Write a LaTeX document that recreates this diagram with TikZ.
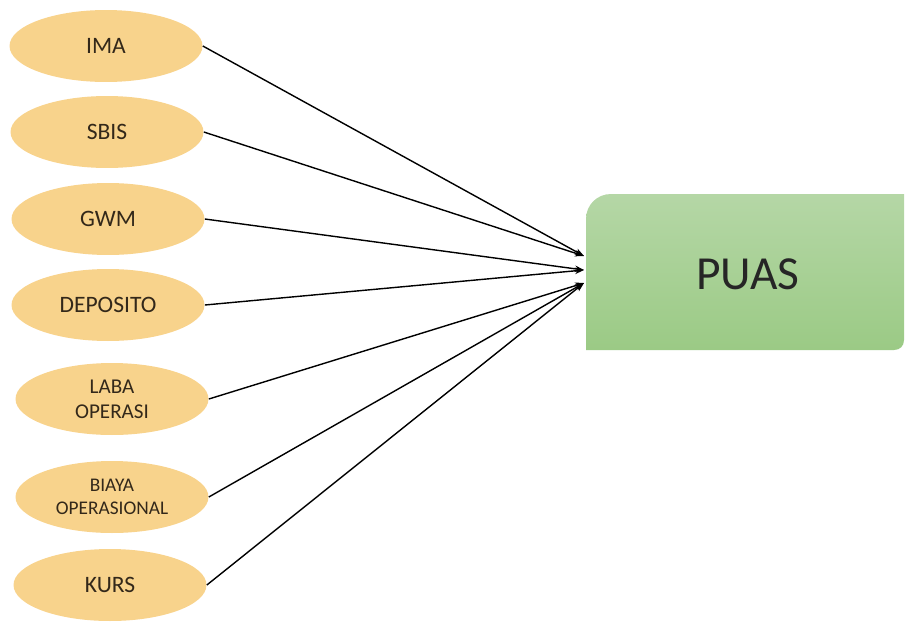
\documentclass[tikz,border=0pt]{standalone}
\usepackage{fontspec}
\setmainfont{Carlito}
\usetikzlibrary{shapes.geometric, arrows.meta}

\definecolor{varfill}{HTML}{F8D38C}
\definecolor{vartext}{HTML}{33281A}
\definecolor{puastop}{HTML}{B5D7A6}
\definecolor{puasbot}{HTML}{9BCA85}

\begin{document}
\begin{tikzpicture}[x = 0.02cm, y = -0.02cm,
    var/.style = {shape = ellipse, fill = varfill, text = vartext, inner sep = 0pt,
                  minimum width = 3.86cm, minimum height = 1.44cm, align = center,
                  font = \fontsize{13.4}{15}\selectfont},
    varsmall/.style = {var, font = \fontsize{12}{14.2}\selectfont},
    vartiny/.style = {var, font = \fontsize{11}{13}\selectfont},
    arr/.style = {-{Stealth[length = 0.18cm, width = 0.13cm]}, line width = 0.8pt, black}]
    \useasboundingbox (0,0) rectangle (906,626);
    % target box
    \shade[top color = puastop, bottom color = puasbot]
        (586,350) -- (586,219) .. controls (586,205) and (597,194) .. (611,194)
        -- (904,194) -- (904,340)
        .. controls (904,346) and (900,350) .. (894,350) -- cycle;
    \node (puas) at (748,274) {\fontsize{27}{30}\selectfont\color{black!85}PUAS};
    \coordinate (in1) at (584,256);
    \coordinate (in2) at (584,270);
    \coordinate (in3) at (584,283);
    % variables
    \node[var] (ima) at (106,46) {IMA};
    \node[var] (sbis) at (107,132) {SBIS};
    \node[var] (gwm) at (108,219) {GWM};
    \node[var] (deposito) at (108,305) {DEPOSITO};
    \node[varsmall] (laba) at (112,399) {LABA\\OPERASI};
    \node[vartiny] (biaya) at (112,497) {BIAYA\\OPERASIONAL};
    \node[var] (kurs) at (110,585) {KURS};
    % arrows
    \draw[arr] (ima.east) -- (in1);
    \draw[arr] (sbis.east) -- (in1);
    \draw[arr] (gwm.east) -- (in2);
    \draw[arr] (deposito.east) -- (in2);
    \draw[arr] (laba.east) -- (in3);
    \draw[arr] (biaya.east) -- (in3);
    \draw[arr] (kurs.east) -- (in3);
\end{tikzpicture}
\end{document}
